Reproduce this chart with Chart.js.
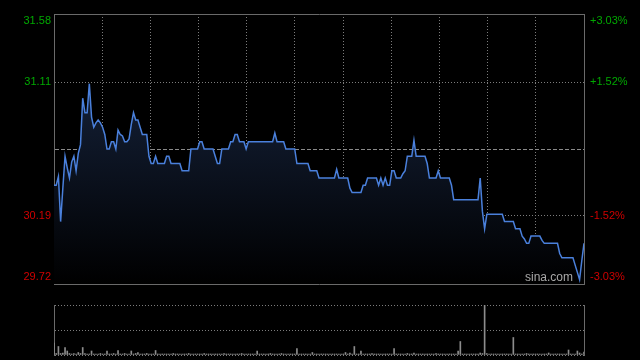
<!DOCTYPE html>
<html>
<head>
<meta charset="utf-8">
<script src="https://cdn.jsdelivr.net/npm/chart.js@4.4.1/dist/chart.umd.min.js"></script>
<style>
  html, body { margin: 0; padding: 0; background: #000; }
  #wrap { position: relative; width: 640px; height: 360px; background: #000; overflow: hidden; }
  #price { position: absolute; left: 0; top: 0; width: 640px; height: 300px; }
  #vol { position: absolute; left: 0; top: 295px; width: 640px; height: 65px; }
</style>
</head>
<body>
<div id="wrap">
  <div id="price"><canvas id="priceChart"></canvas></div>
  <div id="vol"><canvas id="volChart"></canvas></div>
</div>
<script>
// previous close and axis ticks
const prevClose = 30.65;
const priceTicks = [29.72, 30.19, 30.65, 31.11, 31.58];
const priceLabels = ['29.72', '30.19', '', '31.11', '31.58'];
const pctLabels = ['-3.03%', '-1.52%', '', '+1.52%', '+3.03%'];

// one value per minute, 241 points (9:30 - 15:00)
const prices = [
  30.40,30.40,30.46,30.15,30.38,30.60,30.52,30.45,30.56,30.60,
  30.50,30.62,30.68,31.00,30.90,30.90,31.10,30.87,30.80,30.83,
  30.85,30.83,30.80,30.75,30.65,30.65,30.70,30.70,30.65,30.78,
  30.75,30.74,30.70,30.70,30.72,30.82,30.90,30.85,30.85,30.80,
  30.75,30.75,30.75,30.60,30.55,30.55,30.60,30.55,30.55,30.55,
  30.55,30.60,30.60,30.55,30.55,30.55,30.55,30.55,30.50,30.50,
  30.50,30.50,30.65,30.65,30.65,30.65,30.70,30.70,30.65,30.65,
  30.65,30.65,30.65,30.60,30.55,30.55,30.65,30.65,30.65,30.65,
  30.70,30.70,30.75,30.75,30.70,30.70,30.70,30.65,30.70,30.70,
  30.70,30.70,30.70,30.70,30.70,30.70,30.70,30.70,30.70,30.70,
  30.76,30.70,30.70,30.70,30.70,30.65,30.65,30.65,30.65,30.65,
  30.55,30.55,30.55,30.55,30.55,30.55,30.50,30.50,30.50,30.50,
  30.45,30.45,30.45,30.45,30.45,30.45,30.45,30.45,30.51,30.45,
  30.45,30.45,30.45,30.45,30.38,30.35,30.35,30.35,30.35,30.35,
  30.40,30.40,30.45,30.45,30.45,30.45,30.45,30.40,30.45,30.40,
  30.45,30.40,30.40,30.50,30.50,30.45,30.45,30.45,30.48,30.50,
  30.60,30.60,30.60,30.71,30.60,30.60,30.60,30.60,30.60,30.55,
  30.45,30.45,30.45,30.45,30.50,30.45,30.45,30.45,30.45,30.45,
  30.40,30.30,30.30,30.30,30.30,30.30,30.30,30.30,30.30,30.30,
  30.30,30.30,30.30,30.45,30.22,30.10,30.20,30.20,30.20,30.20,
  30.20,30.20,30.20,30.20,30.15,30.15,30.15,30.15,30.15,30.10,
  30.10,30.10,30.05,30.03,30.00,30.00,30.05,30.05,30.05,30.05,
  30.05,30.02,30.00,30.00,30.00,30.00,30.00,30.00,30.00,29.93,
  29.90,29.90,29.90,29.90,29.90,29.90,29.85,29.80,29.75,29.88,
  30.00
];

// volume per minute (relative, biggest bar = 100)
const volumes = [
  24,3,17,3,4,15,8,3,2,3,
  2,5,3,15,3,2,2,8,2,2,
  2,3,2,2,8,2,2,3,2,9,
  2,2,3,2,2,8,2,3,5,2,
  2,2,3,2,2,2,9,2,2,2,
  2,2,2,2,3,2,2,2,2,2,
  2,3,2,2,2,2,2,2,3,2,
  2,2,2,2,2,2,2,3,2,2,
  2,2,2,2,2,3,2,2,2,2,
  2,2,8,2,2,2,2,2,3,2,
  2,2,2,3,2,2,2,2,2,2,
  13,2,2,2,2,2,2,5,2,2,
  2,2,2,2,2,2,2,2,2,2,
  2,2,5,2,4,2,17,2,2,8,
  2,2,2,2,3,2,2,2,2,2,
  2,2,2,2,13,2,2,2,2,2,
  3,2,2,4,2,2,2,2,2,2,
  2,2,2,3,2,2,2,2,2,2,
  2,2,2,8,27,2,2,2,2,2,
  2,2,2,4,3,100,3,2,2,2,
  2,2,2,2,2,2,2,2,35,2,
  2,2,2,2,3,2,2,2,2,2,
  2,2,2,2,4,2,2,2,2,2,
  2,2,2,10,2,2,2,8,4,2,
  6
];

const lastIdx = prices.length - 1;
const gridIdx = [1,2,3,4,5,6,7,8,9,10].map(k => k * lastIdx / 11);

const GREEN = '#00a800';
const RED = '#d00000';
const FRAME = '#6a6a6a';
const DOTS = '#7c7c7c';

Chart.defaults.font.family = '"Liberation Sans", Arial, sans-serif';
Chart.defaults.font.size = 11;

const sinaMark = {
  id: 'sinaMark',
  afterDraw(chart) {
    const { ctx, chartArea } = chart;
    ctx.save();
    ctx.font = '12px "Liberation Sans", Arial, sans-serif';
    ctx.fillStyle = '#a8a8a8';
    ctx.textAlign = 'right';
    ctx.textBaseline = 'middle';
    ctx.fillText('sina.com', chartArea.right - 11, chartArea.bottom - 6);
    ctx.restore();
  }
};

// label text: push the edge labels inside the frame
function edgeLabel(text, i) {
  if (i === priceTicks.length - 1) return ['', text];
  if (i === 0) return [text, ''];
  return text;
}

// fixed axis width, no extra room for the labels above / below
function fixWidth(w) {
  return s => { s.width = w; s.paddingTop = 0; s.paddingBottom = 0; };
}

new Chart(document.getElementById('priceChart'), {
  type: 'line',
  data: {
    datasets: [{
      data: prices.map((p, i) => ({ x: i, y: p })),
      borderColor: '#4a80dc',
      borderWidth: 1.5,
      pointRadius: 0,
      tension: 0,
      fill: 'start',
      backgroundColor: c => {
        const a = c.chart.chartArea;
        if (!a) return 'rgba(0,0,0,0)';
        const g = c.chart.ctx.createLinearGradient(0, a.top, 0, a.bottom);
        g.addColorStop(0, '#1b2b4a');
        g.addColorStop(1, '#000000');
        return g;
      }
    }]
  },
  options: {
    responsive: true,
    maintainAspectRatio: false,
    animation: false,
    events: [],
    layout: { padding: { top: 14, bottom: 16, left: 0, right: 0 } },
    plugins: { legend: { display: false }, tooltip: { enabled: false } },
    scales: {
      x: {
        type: 'linear', min: 0, max: lastIdx, position: 'bottom', offset: false,
        afterBuildTicks: s => { s.ticks = gridIdx.map(v => ({ value: v })); },
        afterFit: s => { s.height = 0; s.paddingLeft = 0; s.paddingRight = 0; },
        ticks: { display: false },
        grid: { color: DOTS, drawTicks: false, lineWidth: 1 },
        border: { display: true, color: FRAME, dash: [1, 2] }
      },
      xTop: {
        type: 'linear', min: 0, max: lastIdx, position: 'top', offset: false,
        afterFit: s => { s.height = 0; s.paddingLeft = 0; s.paddingRight = 0; },
        ticks: { display: false },
        grid: { display: false },
        border: { display: true, color: FRAME }
      },
      y: {
        type: 'linear', position: 'left', min: priceTicks[0], max: priceTicks[priceTicks.length - 1],
        afterBuildTicks: s => { s.ticks = priceTicks.map(v => ({ value: v })); },
        afterFit: fixWidth(54),
        ticks: {
          padding: 3,
          color: c => (c.index > 2 ? GREEN : RED),
          callback: (v, i) => edgeLabel(priceLabels[i], i)
        },
        grid: {
          drawTicks: false,
          lineWidth: 1,
          color: c => (c.index === 0 || c.index === priceTicks.length - 1) ? 'rgba(0,0,0,0)'
            : (c.index === 2 ? '#8a8a8a' : DOTS)
        },
        border: { display: true, color: FRAME, dash: c => (c.index === 2 ? [4, 2] : [1, 2]) }
      },
      y2: {
        type: 'linear', position: 'right', min: priceTicks[0], max: priceTicks[priceTicks.length - 1],
        afterBuildTicks: s => { s.ticks = priceTicks.map(v => ({ value: v })); },
        afterFit: fixWidth(56),
        ticks: {
          padding: 6,
          color: c => (c.index > 2 ? GREEN : RED),
          callback: (v, i) => edgeLabel(pctLabels[i], i)
        },
        grid: { display: false, drawTicks: false },
        border: { display: true, color: FRAME }
      }
    }
  },
  plugins: [sinaMark]
});

new Chart(document.getElementById('volChart'), {
  type: 'bar',
  data: {
    datasets: [{
      data: volumes.map((v, i) => ({ x: i, y: v })),
      backgroundColor: '#8c8c8c',
      barThickness: 1,
      grouped: false
    }]
  },
  options: {
    responsive: true,
    maintainAspectRatio: false,
    animation: false,
    events: [],
    layout: { padding: { top: 10, bottom: 5, left: 0, right: 0 } },
    plugins: { legend: { display: false }, tooltip: { enabled: false } },
    scales: {
      x: {
        type: 'linear', min: 0, max: lastIdx, offset: false,
        afterFit: s => { s.height = 0; s.paddingLeft = 0; s.paddingRight = 0; },
        ticks: { display: false },
        grid: { display: false, offset: false },
        border: { display: false }
      },
      y: {
        position: 'left', min: 0, max: 100,
        afterBuildTicks: s => { s.ticks = [0, 50, 100].map(v => ({ value: v })); },
        afterFit: fixWidth(54),
        ticks: { display: false },
        grid: { color: DOTS, drawTicks: false, lineWidth: 1 },
        border: { display: true, color: FRAME, dash: [1, 2] }
      },
      y2: {
        position: 'right', min: 0, max: 100,
        afterFit: fixWidth(56),
        ticks: { display: false },
        grid: { display: false, drawTicks: false },
        border: { display: true, color: FRAME }
      }
    }
  }
});
</script>
</body>
</html>
